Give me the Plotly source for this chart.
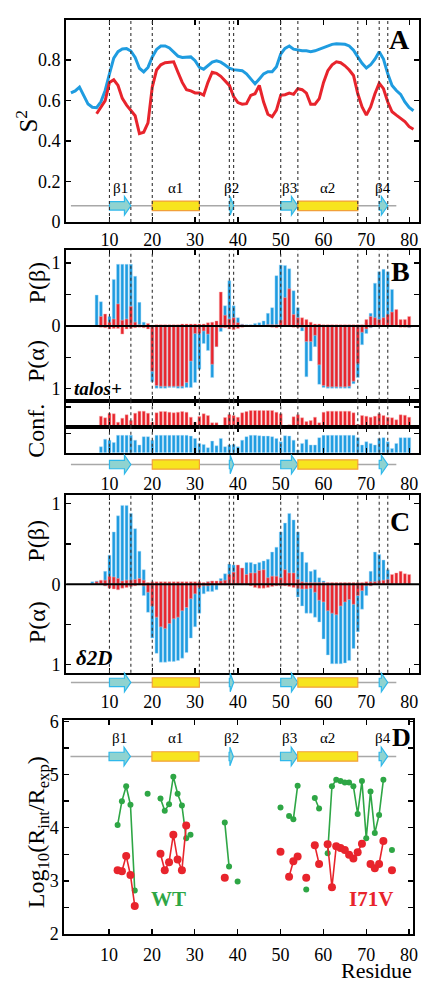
import plotly.graph_objects as go

W, H = 426, 986
FONT = "Liberation Serif, Times New Roman, serif"
BLUE = "#1f9ce0"
RED = "#e8242c"
GREEN = "#2ea645"
TEAL = "#8fd3d0"
CYAN = "#2fb8ea"
YEL = "#f7e41e"
ORANGE = "#f2a03a"

# ---------------- Panel A : S2 ----------------
resA_blue = list(range(1, 82))
s2_blue = [0.638, 0.648, 0.667, 0.627, 0.583, 0.567, 0.565, 0.594, 0.65, 0.732,
           0.81, 0.842, 0.855, 0.857, 0.845, 0.813, 0.76, 0.742, 0.764, 0.816,
           0.853, 0.87, 0.87, 0.86, 0.842, 0.82, 0.813, 0.815, 0.816, 0.797,
           0.764, 0.755, 0.772, 0.79, 0.797, 0.79, 0.776, 0.76, 0.753, 0.751,
           0.748, 0.732, 0.707, 0.683, 0.707, 0.732, 0.743, 0.743, 0.767, 0.83,
           0.858, 0.87, 0.854, 0.849, 0.846, 0.846, 0.842, 0.846, 0.854, 0.865,
           0.872, 0.878, 0.881, 0.881, 0.878, 0.87, 0.849, 0.816, 0.784, 0.761,
           0.777, 0.805, 0.842, 0.805, 0.732, 0.675, 0.65, 0.631, 0.593, 0.566, 0.55]
resA_red = list(range(7, 82))
s2_red = [0.535, 0.57, 0.6, 0.69, 0.703, 0.675, 0.611, 0.578, 0.55, 0.525,
          0.437, 0.444, 0.49, 0.667, 0.751, 0.777, 0.787, 0.79, 0.792, 0.74,
          0.69, 0.654, 0.648, 0.638, 0.638, 0.627, 0.69, 0.74, 0.735, 0.72,
          0.7, 0.675, 0.62, 0.59, 0.582, 0.585, 0.626, 0.634, 0.675, 0.593,
          0.533, 0.52, 0.553, 0.626, 0.629, 0.637, 0.631, 0.659, 0.654, 0.637,
          0.582, 0.582, 0.61, 0.69, 0.748, 0.777, 0.792, 0.787, 0.772, 0.751,
          0.724, 0.634, 0.569, 0.528, 0.569, 0.634, 0.686, 0.659, 0.593, 0.545,
          0.528, 0.512, 0.496, 0.471, 0.458]

# ---------------- secondary structure ----------------
ss_type = ["E", "H", "E", "E", "H", "E"]
ss_name = ["β1", "α1", "β2", "β3", "α2", "β4"]
ss_start = [10, 20, 38, 50, 54, 73]
ss_end = [15, 31, 39, 54, 68, 75]
chain = [1, 77]
x_ticks = [10, 20, 30, 40, 50, 60, 70, 80]

# ---------------- Panel B : talos+ ----------------
resB = list(range(7, 81))
talos_blue_beta = [0.49, 0.385, 0.0, 0.15, 0.74, 0.98, 0.98, 0.98, 0.98, 0.79,
                   0.375, 0.06, 0.0, 0.0, 0, 0, 0, 0, 0, 0,
                   0, 0, 0, 0, 0, 0, 0, 0, 0, 0.04,
                   0.32, 0.72, 0.32, 0.13, 0.03, 0.02, 0.02, 0.04, 0.05, 0.08,
                   0.2, 0.29, 0.8, 0.97, 0.96, 0.91, 0.56, 0.29, 0.05, 0,
                   0, 0, 0, 0, 0, 0, 0, 0, 0, 0,
                   0, 0, 0, 0.05, 0.2, 0.68, 0.86, 0.9, 0.86, 0.58,
                   0, 0, 0, 0]
talos_blue_alpha = [0, 0, 0, 0, 0, 0, 0, 0, 0, 0,
                    0, 0, 0.02, 0.89, 0.99, 0.99, 0.99, 0.98, 0.98, 0.99,
                    0.99, 0.98, 0.98, 0.9, 0.69, 0.28, 0.39, 0.82, 0.33, 0.09,
                    0.02, 0.02, 0.03, 0, 0, 0, 0, 0, 0, 0,
                    0, 0, 0, 0, 0, 0, 0, 0, 0.08, 0.81,
                    0.56, 0.33, 0.93, 0.98, 0.99, 0.99, 0.99, 0.99, 0.99, 0.99,
                    0.92, 0.82, 0.3, 0.12, 0.03, 0, 0, 0, 0, 0,
                    0, 0, 0, 0.03]
talos_red_beta = [0, 0.15, 0.19, 0.06, 0.11, 0.35, 0.09, 0.11, 0.31, 0.06,
                  0.02, 0.01, 0.04, 0.0, 0.02, 0.02, 0.02, 0.02, 0.02, 0.02,
                  0.03, 0.03, 0.03, 0.03, 0.03, 0.03, 0.05, 0.06, 0.08, 0.54,
                  0.17, 0.11, 0.13, 0.05, 0.02, 0.01, 0.01, 0.01, 0.01, 0.01,
                  0.02, 0.02, 0.02, 0.09, 0.45, 0.59, 0.18, 0.13, 0.13, 0.1,
                  0.06, 0.03, 0.03, 0.02, 0.02, 0.02, 0.02, 0.02, 0.02, 0.02,
                  0.02, 0.02, 0.02, 0.1, 0.15, 0.13, 0.1, 0.13, 0.18, 0.22,
                  0.26, 0.1, 0.1, 0.15]
talos_red_alpha = [0, 0.02, 0.03, 0.05, 0.04, 0.04, 0.13, 0.05, 0.04, 0.03,
                   0.02, 0.03, 0.05, 0.72, 0.95, 0.96, 0.96, 0.96, 0.96, 0.96,
                   0.96, 0.9, 0.56, 0.12, 0.12, 0.08, 0.13, 0.61, 0.33, 0.03,
                   0.03, 0.05, 0.06, 0.04, 0.02, 0, 0, 0, 0, 0.01,
                   0.01, 0.02, 0.03, 0.01, 0.01, 0.01, 0.02, 0.03, 0.02, 0.25,
                   0.25, 0.15, 0.62, 0.95, 0.97, 0.97, 0.97, 0.97, 0.97, 0.96,
                   0.88, 0.6, 0.1, 0.05, 0.02, 0.01, 0.01, 0.01, 0.01, 0.01,
                   0.01, 0.02, 0.02, 0.02]

resConf = list(range(8, 81))
conf_red = [0.55, 0.47, 0.7, 0.67, 0.25, 0.45, 0.62, 0.33, 0.7, 0.8,
            0.8, 0.7, 0.25, 0.72, 0.78, 0.78, 0.75, 0.72, 0.75, 0.78,
            0.75, 0.5, 0.25, 0.53, 0.67, 0.58, 0.22, 0.22, 0.08, 0.48,
            0.63, 0.58, 0.5, 0.72, 0.78, 0.83, 0.83, 0.83, 0.83, 0.83,
            0.83, 0.75, 0.67, 0.06, 0.12, 0.52, 0.62, 0.47, 0.28, 0.33,
            0.5, 0.22, 0.75, 0.8, 0.8, 0.8, 0.8, 0.8, 0.8, 0.72,
            0.15, 0.58, 0.55, 0.5, 0.55, 0.67, 0.58, 0.5, 0.47, 0.37,
            0.62, 0.6, 0.5]
conf_blue = [0.31, 0.7, 0.65, 0.53, 0.9, 0.9, 0.9, 0.9, 0.65, 0.4,
             0.83, 0.83, 0.65, 0.9, 0.9, 0.9, 0.9, 0.9, 0.9, 0.9,
             0.9, 0.86, 0.74, 0.48, 0.43, 0.26, 0.6, 0.36, 0.74, 0.31,
             0.4, 0.43, 0.31, 0.65, 0.83, 0.9, 0.9, 0.88, 0.86, 0.86,
             0.83, 0.74, 0.57, 0.88, 0.86, 0.65, 0.14, 0.48, 0.69, 0.4,
             0.4, 0.78, 0.9, 0.9, 0.9, 0.9, 0.9, 0.9, 0.9, 0.9,
             0.78, 0.4, 0.57, 0.48, 0.4, 0.74, 0.78, 0.57, 0.22, 0.48,
             0.78, 0.78, 0.78]

# ---------------- Panel C : delta2D ----------------
resC = list(range(6, 81))
d2d_blue_beta = [0.03, 0.04, 0.04, 0.16, 0.36, 0.65, 0.85, 0.98, 0.98, 0.88,
                 0.69, 0.41, 0.18, 0, 0, 0, 0, 0, 0, 0,
                 0, 0, 0, 0, 0, 0, 0, 0.03, 0.04, 0.02,
                 0.07, 0.13, 0.25, 0.24, 0.23, 0.2, 0.27, 0.27, 0.25, 0.27,
                 0.29, 0.31, 0.4, 0.46, 0.65, 0.76, 0.88, 0.8, 0.65, 0.4,
                 0.27, 0.16, 0.18, 0.08, 0.04, 0, 0, 0, 0, 0,
                 0, 0, 0, 0, 0.02, 0.16, 0.4, 0.37, 0.3, 0.18,
                 0, 0, 0, 0, 0]
d2d_blue_alpha = [0, 0, 0, 0.02, 0.04, 0.05, 0.06, 0.04, 0.03, 0.02,
                  0.01, 0, 0.14, 0.35, 0.67, 0.86, 0.97, 0.97, 0.96, 0.96,
                  0.95, 0.92, 0.85, 0.67, 0.53, 0.36, 0.12, 0.09, 0.09, 0.07,
                  0, 0, 0, 0, 0, 0, 0, 0, 0, 0,
                  0, 0, 0, 0, 0, 0, 0, 0, 0.16, 0.27,
                  0.36, 0.36, 0.41, 0.47, 0.68, 0.88, 0.99, 0.99, 0.99, 0.98,
                  0.95, 0.8, 0.59, 0.31, 0.14, 0.02, 0, 0, 0, 0,
                  0, 0, 0, 0, 0]
d2d_red_beta = [0, 0.03, 0.05, 0.05, 0.1, 0.09, 0.07, 0.04, 0.05, 0.05,
                0.06, 0.07, 0.05, 0.02, 0.03, 0.03, 0.03, 0.03, 0.03, 0.03,
                0.03, 0.03, 0.03, 0.03, 0.03, 0.03, 0.02, 0.03, 0.04, 0.04,
                0.04, 0.05, 0.12, 0.15, 0.24, 0.2, 0.12, 0.14, 0.14, 0.17,
                0.18, 0.08, 0.1, 0.1, 0.08, 0.18, 0.14, 0.14, 0.06, 0.03,
                0.02, 0.02, 0.02, 0.02, 0.02, 0.02, 0.02, 0.02, 0.02, 0.02,
                0.02, 0.02, 0.02, 0.02, 0.03, 0.03, 0.03, 0.04, 0.05, 0.06,
                0.12, 0.14, 0.16, 0.13, 0.12]
d2d_red_alpha = [0, 0, 0, 0.02, 0.05, 0.06, 0.07, 0.05, 0.04, 0.03,
                 0.02, 0.01, 0.02, 0.1, 0.27, 0.41, 0.53, 0.55, 0.49, 0.43,
                 0.41, 0.33, 0.29, 0.18, 0.12, 0.04, 0.02, 0.02, 0.01, 0.01,
                 0.01, 0.01, 0.01, 0.01, 0.01, 0.01, 0.01, 0.02, 0.04, 0.05,
                 0.05, 0.04, 0.03, 0.02, 0.02, 0.02, 0.03, 0.04, 0.05, 0.06,
                 0.06, 0.05, 0.1, 0.2, 0.22, 0.33, 0.36, 0.38, 0.27, 0.22,
                 0.19, 0.25, 0.14, 0.08, 0.02, 0.02, 0, 0, 0, 0,
                 0, 0, 0, 0, 0]

# ---------------- Panel D : log10(Rint/Rexp) ----------------
resD = list(range(12, 77))
logR_WT = [4.05, 4.5, 4.78, 4.43, 2.82, None, None, 4.64, None, None,
           4.55, 4.32, 4.44, 4.96, 4.64, 4.42, 3.8, 3.87, None, None,
           None, None, None, None, None, 4.1, 3.27, None, 2.99, None,
           None, None, None, None, None, None, None, None, 4.38, None,
           4.22, 4.16, 4.79, None, 2.84, None, 4.56, 4.36, None, 3.52,
           4.78, 4.9, 4.88, 4.85, 4.85, 4.78, 4.26, 4.88, 3.8, 4.68,
           3.9, 4.24, 4.9, None, 3.58]
logR_I71V = [3.2, 3.18, 3.47, 3.11, 2.53, None, None, None, None, None,
             3.51, 3.2, 3.35, 3.87, 3.4, 3.2, 4.04, None, None, None,
             None, None, None, None, None, 3.06, None, None, None, None,
             None, None, None, None, None, None, None, None, 3.55, None,
             3.08, 3.37, 3.46, None, 3.06, None, 3.67, 3.32, None, 3.69,
             2.88, 3.65, 3.62, 3.58, 3.49, 3.42, 3.54, 3.7, None, 3.32,
             3.24, 3.32, 3.75, None, 3.2]


# ---------------- geometry helpers ----------------
def fx(p):
    return p / W


def fy(p):
    return 1 - p / H


XR = [-0.1, 82.3]
XDOM = [fx(67), fx(424)]
XR_D = [-0.45, 81.0]
XDOM_D = [fx(65), fx(418.3)]
TF = dict(family=FONT, size=18, color="black")

fig = go.Figure()

# Panel A lines
fig.add_trace(go.Scatter(x=resA_blue, y=s2_blue, mode="lines", line=dict(color=BLUE, width=3),
                         xaxis="x", yaxis="y"))
fig.add_trace(go.Scatter(x=resA_red, y=s2_red, mode="lines", line=dict(color=RED, width=3),
                         xaxis="x", yaxis="y"))


def bars(x, y, color, edge, xa, ya):
    return go.Bar(x=x, y=y, width=0.7, marker=dict(color=color, line=dict(color=edge, width=0.5)),
                  xaxis=xa, yaxis=ya)


BEDGE = "rgba(170,220,248,0.9)"
REDGE = "rgba(250,180,180,0.9)"
# Panel B
fig.add_trace(bars(resB, talos_blue_beta, BLUE, BEDGE, "x2", "y2"))
fig.add_trace(bars(resB, [-v for v in talos_blue_alpha], BLUE, BEDGE, "x2", "y2"))
fig.add_trace(bars(resB, talos_red_beta, RED, REDGE, "x2", "y2"))
fig.add_trace(bars(resB, [-v for v in talos_red_alpha], RED, REDGE, "x2", "y2"))
fig.add_trace(bars(resConf, conf_red, RED, REDGE, "x3", "y3"))
fig.add_trace(bars(resConf, conf_blue, BLUE, BEDGE, "x4", "y4"))
# Panel C
fig.add_trace(bars(resC, d2d_blue_beta, BLUE, BEDGE, "x6", "y6"))
fig.add_trace(bars(resC, [-v for v in d2d_blue_alpha], BLUE, BEDGE, "x6", "y6"))
fig.add_trace(bars(resC, d2d_red_beta, RED, REDGE, "x6", "y6"))
fig.add_trace(bars(resC, [-v for v in d2d_red_alpha], RED, REDGE, "x6", "y6"))
# Panel D
fig.add_trace(go.Scatter(x=resD, y=logR_WT, mode="lines+markers", connectgaps=False,
                         line=dict(color=GREEN, width=1.6), marker=dict(color=GREEN, size=6),
                         xaxis="x8", yaxis="y8"))
fig.add_trace(go.Scatter(x=resD, y=logR_I71V, mode="lines+markers", connectgaps=False,
                         line=dict(color=RED, width=1.6), marker=dict(color=RED, size=8),
                         xaxis="x8", yaxis="y8"))

# cartoon backbone lines
CART = [("x", "y", 0.08, 206.0), ("x5", "y5", 0.0, 7.5), ("x7", "y7", 0.0, 7.5), ("x8", "y8", 5.34, 54.15)]
for xa, ya, yc, upx in CART:
    fig.add_trace(go.Scatter(x=chain, y=[yc, yc], mode="lines", line=dict(color="#a8a8a8", width=1.5),
                             xaxis=xa, yaxis=ya, hoverinfo="skip"))

shapes = []
for xa, ya, yc, upx in CART:
    hb, hh, hr = 4.3 / upx, 9.5 / upx, 4.8 / upx
    for t, s, e in zip(ss_type, ss_start, ss_end):
        if t == "H":
            shapes.append(dict(type="rect", xref=xa, yref=ya, x0=s, x1=e, y0=yc - hr, y1=yc + hr,
                               fillcolor=YEL, line=dict(color=ORANGE, width=1.2), layer="above"))
        else:
            hl = min(1.5, 0.8 * (e - s))
            he = e - hl
            path = (f"M{s},{yc - hb} L{he},{yc - hb} L{he},{yc - hh} L{e},{yc} "
                    f"L{he},{yc + hh} L{he},{yc + hb} L{s},{yc + hb} Z")
            shapes.append(dict(type="path", xref=xa, yref=ya, path=path, fillcolor=TEAL,
                               line=dict(color=CYAN, width=1.2), layer="above"))

bounds = sorted(set(ss_start + ss_end))
for xa, ya in [("x", "y"), ("x2", "y2"), ("x3", "y3"), ("x4", "y4"), ("x6", "y6")]:
    for b in bounds:
        shapes.append(dict(type="line", xref=xa, yref=ya + " domain", x0=b, x1=b, y0=0, y1=1,
                           line=dict(color="#333333", width=1.1, dash="dot"), layer="above"))
for xa, ya in [("x2", "y2"), ("x6", "y6")]:
    shapes.append(dict(type="line", xref=xa + " domain", yref=ya, x0=0, x1=1, y0=0, y1=0,
                       line=dict(color="black", width=2), layer="above"))


def box_x(domain, anchor, labels, rng=XR, **kw):
    d = dict(domain=domain, range=rng, anchor=anchor, showline=True, linewidth=2, linecolor="black",
             mirror="ticks", ticks="inside", ticklen=5, tickwidth=1.3, tickcolor="black",
             tickvals=x_ticks, showticklabels=labels, showgrid=False, zeroline=False, tickfont=TF)
    d.update(kw)
    return d


def box_y(domain, anchor, rng, tv, labels=True, minor_vals=None):
    d = dict(domain=domain, range=rng, anchor=anchor, showline=True, linewidth=2, linecolor="black",
             mirror="ticks", ticks="inside", ticklen=5, tickwidth=1.3, tickcolor="black",
             tickmode="array", tickvals=tv, ticktext=[f"{abs(v):g}" for v in tv],
             showticklabels=labels, showgrid=False, zeroline=False, tickfont=TF)
    if minor_vals:
        d["minor"] = dict(tickmode="array", tickvals=minor_vals, ticks="inside", ticklen=5,
                          tickwidth=1.3, tickcolor="black", showgrid=False)
    return d


def cart_x(pos):
    return dict(domain=XDOM, range=XR, anchor="free", position=pos, showline=False, ticks="",
                tickvals=x_ticks, showticklabels=True, showgrid=False, zeroline=False, tickfont=TF)


def cart_y(domain, anchor):
    return dict(domain=domain, range=[-1.6, 1.6], anchor=anchor, visible=False,
                showgrid=False, zeroline=False)


pab = [-1, 0, 1]
pab_minor = [-0.5, 0.5]

layout = dict(
    width=W, height=H, margin=dict(l=0, r=0, t=0, b=0),
    paper_bgcolor="white", plot_bgcolor="rgba(0,0,0,0)",
    showlegend=False, barmode="overlay",
    font=dict(family=FONT, color="black"),
    xaxis=box_x(XDOM, "y", True),
    yaxis=box_y([fy(218), fy(12.5)], "x", [0, 0.997], [0, 0.2, 0.4, 0.6, 0.8]),
    xaxis2=box_x(XDOM, "y2", False),
    yaxis2=box_y([fy(400), fy(247)], "x2", [-1.19, 1.2], pab, minor_vals=pab_minor),
    xaxis3=box_x(XDOM, "y3", False),
    yaxis3=box_y([fy(427), fy(400)], "x3", [0, 1.32], [1], labels=False),
    xaxis4=box_x(XDOM, "y4", False),
    yaxis4=box_y([fy(453), fy(427)], "x4", [0, 1.32], [1], labels=False),
    xaxis5=cart_x(fy(472)),
    yaxis5=cart_y([fy(477), fy(453)], "x5"),
    xaxis6=box_x(XDOM, "y6", False),
    yaxis6=box_y([fy(677), fy(496)], "x6", [-1.1, 1.11], pab, minor_vals=pab_minor),
    xaxis7=cart_x(fy(694)),
    yaxis7=cart_y([fy(699), fy(675)], "x7"),
    xaxis8=box_x(XDOM_D, "y8", True, rng=XR_D, ticklabelstandoff=3),
    yaxis8=box_y([fy(943.3), fy(725)], "x8", [2, 6.03], [2, 3, 4, 5, 6],
                 minor_vals=[2.5, 3.5, 4.5, 5.5]),
    shapes=shapes,
    hovermode=False,
)
fig.update_layout(**layout)

ann = []


def txt(x, y, s, size, color="black", angle=0, xanchor="center"):
    ann.append(dict(x=fx(x), y=fy(y), xref="paper", yref="paper", text=s, showarrow=False,
                    textangle=angle, xanchor=xanchor, yanchor="middle",
                    font=dict(family=FONT, size=size, color=color)))


txt(27, 115, "S<sup>2</sup>", 25, angle=-90)
txt(37, 280, "P(β)", 24, angle=-90)
txt(37, 360, "P(α)", 24, angle=-90)
txt(37, 431, "Conf.", 24, angle=-90)
txt(37, 543, "P(β)", 24, angle=-90)
txt(37, 626, "P(α)", 24, angle=-90)
txt(38, 840, "Log<sub>10</sub>(R<sub>int</sub>/R<sub>exp</sub>)", 24, angle=-90)
txt(404, 32, "<b>A</b>", 28)
txt(405, 268, "<b>B</b>", 28)
txt(405, 523, "<b>C</b>", 28)
txt(406, 743, "<b>D</b>", 26)
txt(99, 388, "<b><i>talos+</i></b>", 19)
txt(95, 662, "<b><i>δ2D</i></b>", 21)
txt(170, 908, "<b>WT</b>", 21, color=GREEN)
txt(375, 908, "<b>I71V</b>", 21, color=RED)
txt(381, 980, "Residue", 22)

for xa, ya, ly in [("x", "y", 0.17), ("x8", "y8", 5.68)]:
    for name, s, e in zip(ss_name, ss_start, ss_end):
        ann.append(dict(x=(s + e) / 2, y=ly, xref=xa, yref=ya, text=name, showarrow=False,
                        xanchor="center", yanchor="middle",
                        font=dict(family=FONT, size=15, color="black")))

fig.update_layout(annotations=ann)
fig.write_html("out.html", config={"displayModeBar": False, "staticPlot": True},
               post_script="document.body.style.margin='0px';document.body.style.padding='0px';")
